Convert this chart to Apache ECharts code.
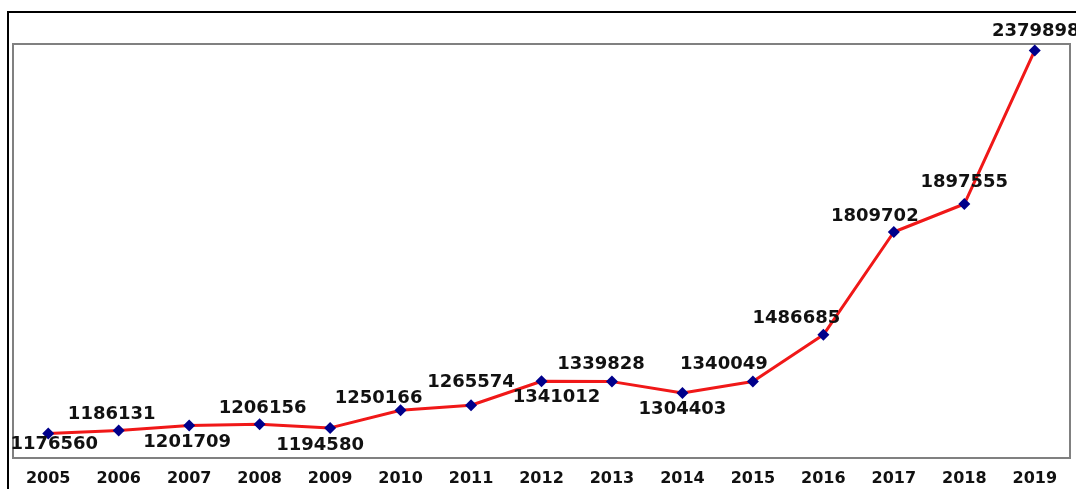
<!DOCTYPE html>
<html>
<head>
<meta charset="utf-8">
<script src="https://cdn.jsdelivr.net/npm/echarts@6/dist/echarts.min.js"></script>
<style>
html,body{margin:0;padding:0;background:#fff;}
#chart{width:1076px;height:489px;}
</style>
</head>
<body>
<div id="chart"></div>
<script>
const years = ['2005','2006','2007','2008','2009','2010','2011','2012','2013','2014','2015','2016','2017','2018','2019'];
const values = [1176560,1186131,1201709,1206156,1194580,1250166,1265574,1341012,1339828,1304403,1340049,1486685,1809702,1897555,2379898];

// label placement (dx, dy from each marker centre)
const labelOffsets = [[6,11],[-7,-16],[-2,17],[3,-16],[-10,17],[-22,-12],[0,-23],[15,16],[-11,-17],[0,16],[-29,-17],[-27,-17],[-19,-16],[0,-22],[1,-19]];

const SYM = 12;
const chart = echarts.init(document.getElementById('chart'));
const font = 'DejaVu Sans';
chart.setOption({
  animation: false,
  backgroundColor: '#fff',
  graphic: [{
    type: 'rect',
    shape: {x: 8, y: 12, width: 1200, height: 600},
    style: {fill: 'none', stroke: '#000', lineWidth: 2},
    silent: true
  }],
  grid: {left: 13, right: 6, top: 44, bottom: 31, show: true, borderColor: '#808080', borderWidth: 2, backgroundColor: 'transparent'},
  xAxis: {
    type: 'category',
    data: years,
    boundaryGap: true,
    axisLine: {show: false},
    axisTick: {show: false},
    axisLabel: {fontFamily: font, fontWeight: 'bold', fontSize: 16, color: '#111', margin: 13}
  },
  yAxis: {
    type: 'value',
    min: 1100000,
    max: 2400000,
    show: false,
    splitLine: {show: false}
  },
  series: [{
    type: 'line',
    data: values.map((v, i) => ({
      value: v,
      label: {position: [SYM / 2 + labelOffsets[i][0], SYM / 2 + labelOffsets[i][1]]}
    })),
    symbol: 'diamond',
    symbolSize: SYM,
    itemStyle: {color: '#00008b'},
    lineStyle: {color: '#f01818', width: 3},
    z: 3,
    label: {
      show: true,
      align: 'center',
      verticalAlign: 'middle',
      fontFamily: font,
      fontWeight: 'bold',
      fontSize: 18,
      color: '#111'
    },
    labelLayout: {hideOverlap: false}
  }]
});
</script>
</body>
</html>
